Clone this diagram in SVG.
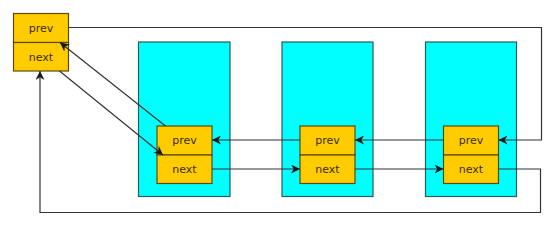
<svg xmlns="http://www.w3.org/2000/svg" width="554" height="225" viewBox="0 0 554 225">
<defs>
<marker id="arr" viewBox="0 0 10 10" refX="10" refY="5" markerWidth="9" markerHeight="9" orient="auto" markerUnits="userSpaceOnUse">
<path d="M0,0 L10,5 L0,10 L3,5 Z" fill="#1a1a1a"/>
</marker>
<style>
.box{fill:#00FFFF;stroke:#2a5a5a;stroke-width:1.2}
.cell{fill:#FFCC00;stroke:#5a4a10;stroke-width:1.2}
.t{font-family:"DejaVu Sans",sans-serif;font-size:11px;fill:#3a2e00;text-anchor:middle}
.c{fill:none;stroke:#333;stroke-width:1.2;marker-end:url(#arr)}
</style>
</defs>
<rect width="554" height="225" fill="#fff"/>
<g id="box1"><rect class="box" x="138.5" y="42" width="91.5" height="154.5"/></g>
<g id="box2"><rect class="box" x="282" y="42" width="91" height="154.5"/></g>
<g id="box3"><rect class="box" x="425.5" y="42" width="91" height="154.5"/></g>
<g id="head">
<rect class="cell" x="13.5" y="13.5" width="55" height="29"/>
<rect class="cell" x="13.5" y="42.5" width="55" height="28.5"/>
<text class="t" x="41" y="31.5">prev</text>
<text class="t" x="41" y="60.5">next</text>
</g>
<g id="node1">
<rect class="cell" x="157" y="126" width="55" height="29"/>
<rect class="cell" x="157" y="155" width="55" height="28.5"/>
<text class="t" x="184.5" y="144">prev</text>
<text class="t" x="184.5" y="173">next</text>
</g>
<g id="node2">
<rect class="cell" x="300" y="126" width="55" height="29"/>
<rect class="cell" x="300" y="155" width="55" height="28.5"/>
<text class="t" x="327.5" y="144">prev</text>
<text class="t" x="327.5" y="173">next</text>
</g>
<g id="node3">
<rect class="cell" x="443.5" y="126" width="55" height="29"/>
<rect class="cell" x="443.5" y="155" width="55" height="28.5"/>
<text class="t" x="471" y="144">prev</text>
<text class="t" x="471" y="173">next</text>
</g>
<g id="connectors">
<path class="c" d="M68.5,27.5 H541.5 V140 H498.5"/>
<path class="c" d="M443.5,140 H355"/>
<path class="c" d="M300,140 H212"/>
<path class="c" d="M212,169 H300"/>
<path class="c" d="M355,169 H443.5"/>
<path class="c" d="M498.5,169 H540.5 V212.5 H40 V71"/>
<path class="c" d="M165.5,126 L60,42.5"/>
<path class="c" d="M59.5,71 L163,155"/>
</g>
</svg>
